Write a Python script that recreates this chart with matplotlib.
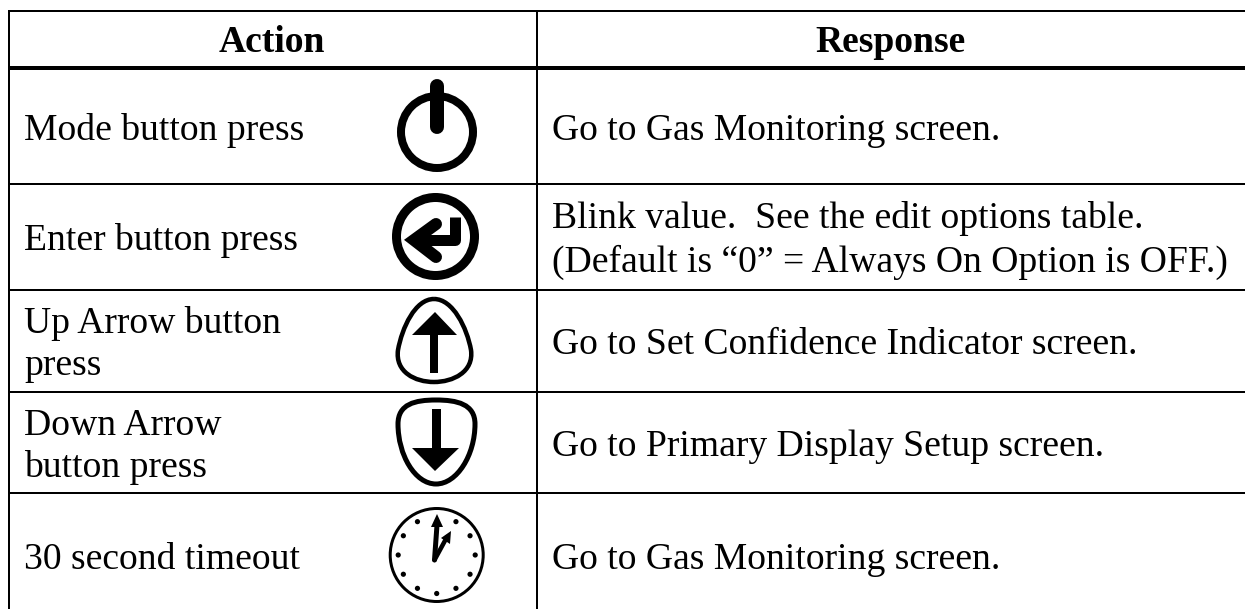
import matplotlib
matplotlib.use("Agg")
import matplotlib.pyplot as plt
import numpy as np
from matplotlib.patches import Circle, PathPatch, Polygon, Rectangle
from matplotlib.path import Path

headers = ["Action", "Response"]
actions = [
    "Mode button press",
    "Enter button press",
    "Up Arrow button\npress",
    "Down Arrow\nbutton press",
    "30 second timeout",
]
responses = [
    "Go to Gas Monitoring screen.",
    "Blink value.  See the edit options table.\n(Default is \u201c0\u201d = Always On Option is OFF.)",
    "Go to Set Confidence Indicator screen.",
    "Go to Primary Display Setup screen.",
    "Go to Gas Monitoring screen.",
]

W, H = 1245, 609
PX = 72 / 100  # 1 pixel in points at dpi 100
FS = 37.6 * PX

fig = plt.figure(figsize=(W / 100, H / 100), dpi=100)
ax = fig.add_axes([0, 0, 1, 1])
ax.set_xlim(0, W)
ax.set_ylim(H, 0)
ax.axis("off")


def stroke(xs, ys, w, cap="round", join="round"):
    ax.plot(xs, ys, color="black", lw=w * PX, solid_capstyle=cap, solid_joinstyle=join)


# table rules
stroke([8, W], [10.5, 10.5], 2, "butt")
stroke([8, W], [68, 68], 4, "butt")
for y in [184, 290, 392, 493]:
    stroke([8, W], [y, y], 2, "butt")
stroke([9, 9], [10, H], 2, "butt")
stroke([537, 537], [10, H], 2, "butt")

# text
tkw = dict(family="Liberation Serif", fontsize=FS, color="black", va="baseline")
ax.text(272, 52, headers[0], ha="center", fontweight="bold", **tkw)
ax.text(890, 52, headers[1], ha="center", fontweight="bold", **tkw)

left_base = [[139.5], [250], [333, 375], [435, 477], [569]]
right_base = [[139.5], [228, 272], [354], [456], [569]]
for label, bases in zip(actions, left_base):
    for line, y in zip(label.split("\n"), bases):
        ax.text(24, y, line, ha="left", **tkw)
for label, bases in zip(responses, right_base):
    for line, y in zip(label.split("\n"), bases):
        ax.text(552, y, line, ha="left", **tkw)

# mode icon
ax.add_patch(Circle((437, 132), 36, fill=False, ec="black", lw=8 * PX))
stroke([437, 437], [86, 127], 14, "round")

# enter icon
ax.add_patch(Circle((435.5, 236.5), 39, fill=False, ec="black", lw=9 * PX))
stroke([455, 455, 418], [217, 239.5, 239.5], 11, "butt", "round")
stroke([436, 414, 436], [224, 240, 257], 12, "round", "miter")

# up arrow icon
egg = Path(
    [(434, 299), (415, 299), (402, 328), (398, 350), (395, 372), (415, 382),
     (434, 382), (453, 382), (474, 372), (471, 350), (467, 328), (453, 299), (434, 299)],
    [Path.MOVETO] + [Path.CURVE4] * 12,
)
ax.add_patch(PathPatch(egg, fill=False, ec="black", lw=4.5 * PX))
ax.add_patch(Polygon([(435, 312), (412, 335), (457, 335)], fc="black", ec="none"))
ax.add_patch(Rectangle((430, 333), 8, 40, fc="black", ec="none"))

# down arrow icon
shield = Path(
    [(436, 400), (415, 400), (398, 404), (398, 424), (398, 455), (415, 484),
     (436, 484), (457, 484), (475, 455), (475, 424), (475, 404), (457, 400), (436, 400)],
    [Path.MOVETO] + [Path.CURVE4] * 12,
)
ax.add_patch(PathPatch(shield, fill=False, ec="black", lw=5 * PX))
ax.add_patch(Polygon([(412, 448), (459, 448), (435, 471)], fc="black", ec="none"))
ax.add_patch(Rectangle((432, 409), 9, 41, fc="black", ec="none"))

# clock icon
cx, cy = 436.7, 555
ax.add_patch(Circle((cx, cy), 46.5, fill=False, ec="black", lw=3 * PX))
for a in np.deg2rad(np.arange(30, 360, 30)):
    tx, ty = cx + 38.5 * np.sin(a), cy - 38.5 * np.cos(a)
    ax.add_patch(Circle((tx, ty), 2.6, fc="black", ec="none"))
stroke([434.5, 437], [560, 525], 5, "round")
ax.add_patch(Polygon([(437, 514), (431, 527), (443, 527)], fc="black", ec="none"))
stroke([434.5, 447], [560, 537], 4.5, "round")
ax.add_patch(Polygon([(451, 531), (441, 538), (450, 544)], fc="black", ec="none"))

fig.savefig("out.png", dpi=100, facecolor="white")
